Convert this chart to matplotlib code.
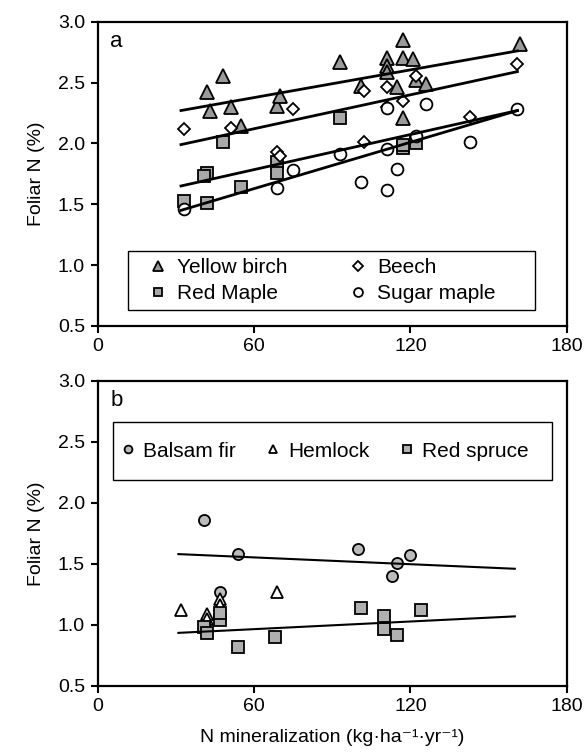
# Foliar N vs N mineralization, two panels (hardwoods / conifers)
import numpy as np
import matplotlib.pyplot as plt
from matplotlib.patches import Rectangle

plt.rcParams['font.family'] = ['Liberation Sans', 'DejaVu Sans']

# Panel a - hardwoods
BIRCH_X = [42, 43, 48, 51, 55, 69, 70, 93, 101, 111, 111, 111, 115, 117, 117, 117, 121, 122, 126, 162]
BIRCH_Y = [2.42, 2.27, 2.55, 2.30, 2.14, 2.31, 2.39, 2.67, 2.47, 2.70, 2.64, 2.59, 2.46, 2.85, 2.70, 2.21, 2.69, 2.52, 2.49, 2.82]
BEECH_X = [33, 51, 69, 70, 75, 102, 102, 111, 111, 117, 122, 143, 161]
BEECH_Y = [2.12, 2.13, 1.93, 1.90, 2.28, 2.43, 2.01, 2.46, 2.30, 2.35, 2.55, 2.22, 2.65]
REDMAPLE_X = [33, 42, 42, 41, 48, 55, 69, 69, 93, 117, 117, 122]
REDMAPLE_Y = [1.53, 1.51, 1.76, 1.73, 2.01, 1.64, 1.85, 1.76, 2.21, 1.96, 1.99, 2.00]
SUGAR_X = [33, 69, 75, 93, 101, 111, 111, 111, 115, 122, 126, 143, 161]
SUGAR_Y = [1.46, 1.63, 1.78, 1.91, 1.68, 1.62, 1.95, 2.29, 1.79, 2.06, 2.32, 2.01, 2.28]

FIT_X_A = [32, 161]
BIRCH_FIT = [2.27, 2.76]
BEECH_FIT = [1.99, 2.59]
REDMAPLE_FIT = [1.65, 2.27]
SUGAR_FIT = [1.45, 2.27]

# Panel b - conifers
FIR_X = [41, 47, 54, 100, 113, 115, 120]
FIR_Y = [1.86, 1.27, 1.58, 1.62, 1.40, 1.51, 1.57]
HEMLOCK_X = [32, 42, 42, 47, 47, 69]
HEMLOCK_Y = [1.12, 1.09, 1.05, 1.21, 1.16, 1.27]
SPRUCE_X = [41, 42, 47, 47, 54, 68, 101, 110, 110, 115, 124]
SPRUCE_Y = [0.98, 0.93, 1.04, 1.10, 0.82, 0.90, 1.14, 1.07, 0.97, 0.92, 1.12]

FIT_X_B = [31, 160]
FIR_FIT = [1.58, 1.46]
SPRUCE_FIT = [0.935, 1.07]

X_TICKS = [0, 60, 120, 180]
Y_TICKS = [0.5, 1.0, 1.5, 2.0, 2.5, 3.0]

FONT = 14
LEG_FONT = 15


def style_axes(ax, letter):
    ax.set_xlim(0, 180)
    ax.set_ylim(0.5, 3.0)
    ax.set_xticks(X_TICKS)
    ax.set_yticks(Y_TICKS)
    ax.set_yticklabels([f"{v:.1f}" for v in Y_TICKS])
    ax.tick_params(direction='out', length=5, width=1.5, labelsize=FONT, pad=4)
    for s in ax.spines.values():
        s.set_linewidth(1.6)
    ax.set_ylabel('Foliar N (%)', fontsize=FONT, labelpad=9)
    ax.text(0.041, 0.934, letter, transform=ax.transAxes, fontsize=FONT + 2,
            ha='center', va='center')


def legend_box(ax, x, y, w, h):
    """Plain black frame around a legend, in axes fractions."""
    ax.add_patch(Rectangle((x, y), w, h, transform=ax.transAxes, fill=False,
                           edgecolor='black', linewidth=1.0, zorder=5))


def plot_panel_a(ax):
    kw = dict(linestyle='none', markeredgecolor='black', markeredgewidth=1.3)
    ax.plot(BIRCH_X, BIRCH_Y, marker='^', markersize=9.5, markerfacecolor='#9a9a9a',
            label='Yellow birch', **kw)
    ax.plot(REDMAPLE_X, REDMAPLE_Y, marker='s', markersize=8, markerfacecolor='#a8a8a8',
            label='Red Maple', **kw)
    ax.plot(BEECH_X, BEECH_Y, marker='D', markersize=6.5, markerfacecolor='white',
            label='Beech', **kw)
    ax.plot(SUGAR_X, SUGAR_Y, marker='o', markersize=8.5, markerfacecolor='white',
            label='Sugar maple', **kw)
    for fit in (BIRCH_FIT, BEECH_FIT, REDMAPLE_FIT, SUGAR_FIT):
        ax.plot(FIT_X_A, fit, color='black', linewidth=2)
    style_axes(ax, 'a')
    legend_box(ax, 0.065, 0.0526, 0.867, 0.195)
    ax.legend(ncol=2, loc='center left', bbox_to_anchor=(0.1067, 0.1495),
              fontsize=LEG_FONT, frameon=False, borderaxespad=0, borderpad=0,
              handlelength=1.0, handletextpad=0.4, labelspacing=0.34,
              columnspacing=2.9, markerscale=0.75)


def plot_panel_b(ax):
    kw = dict(linestyle='none', markeredgecolor='black', markeredgewidth=1.3)
    ax.plot(FIR_X, FIR_Y, marker='o', markersize=8, markerfacecolor='#bbbbbb',
            label='Balsam fir', **kw)
    ax.plot(HEMLOCK_X, HEMLOCK_Y, marker='^', markersize=9, markerfacecolor='white',
            label='Hemlock', **kw)
    ax.plot(SPRUCE_X, SPRUCE_Y, marker='s', markersize=8, markerfacecolor='#b0b0b0',
            label='Red spruce', **kw)
    for fit in (FIR_FIT, SPRUCE_FIT):
        ax.plot(FIT_X_B, fit, color='black', linewidth=1.5)
    style_axes(ax, 'b')
    ax.set_xlabel('N mineralization (kg\u00b7ha\u207b\u00b9\u00b7yr\u207b\u00b9)',
                  fontsize=FONT, labelpad=10)
    legend_box(ax, 0.032, 0.674, 0.937, 0.19)
    ax.legend(ncol=3, loc='center left', bbox_to_anchor=(0.0517, 0.769),
              fontsize=LEG_FONT, frameon=False, borderaxespad=0, borderpad=0,
              handlelength=0.6, handletextpad=0.42, columnspacing=1.5,
              markerscale=0.7)


def main():
    fig = plt.figure(figsize=(5.87, 7.53), dpi=100)
    ax_a = fig.add_axes([0.1661, 0.5671, 0.7998, 0.4041])
    ax_b = fig.add_axes([0.1661, 0.0890, 0.7998, 0.4054])
    plot_panel_a(ax_a)
    plot_panel_b(ax_b)
    fig.savefig('out.png', dpi=100)


if __name__ == '__main__':
    main()
